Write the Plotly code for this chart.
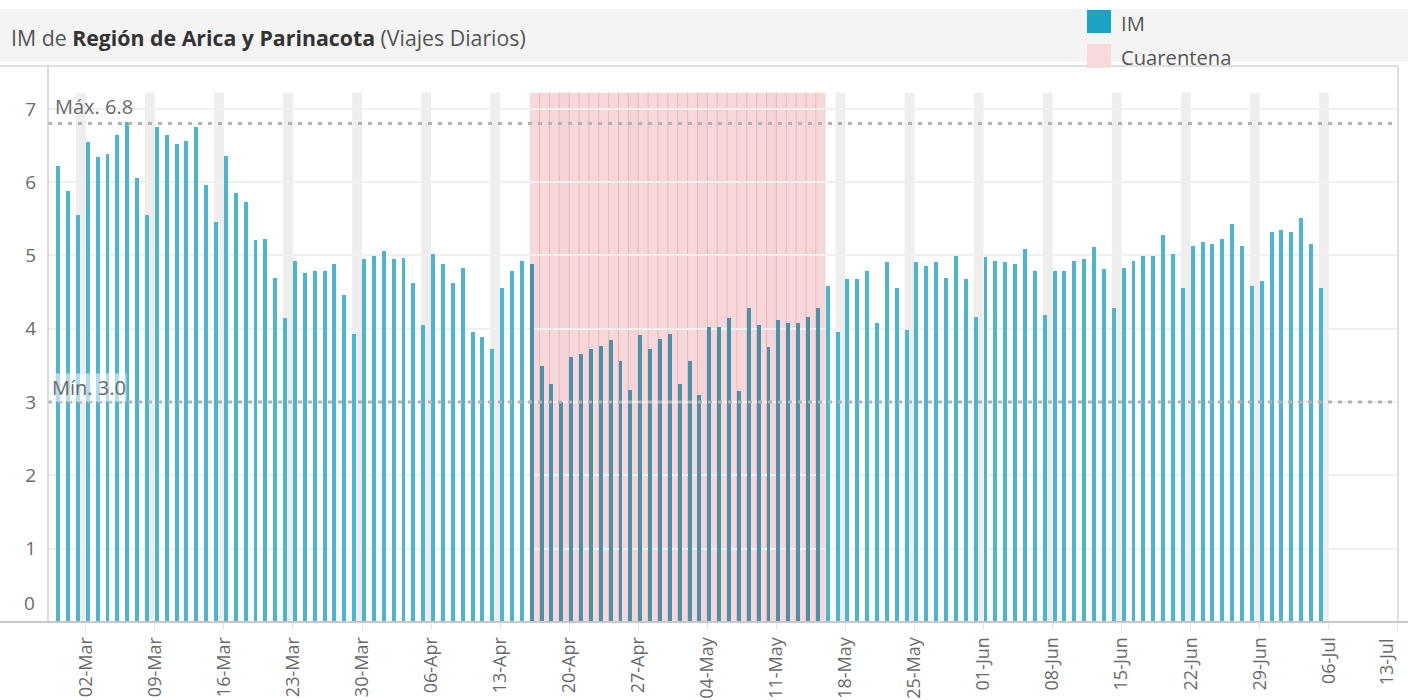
import pandas as pd
import plotly.graph_objects as go

# ---------------- data ----------------
first_day = "2020-02-28"
last_day = "2020-07-05"
im_values = [
    # Feb 28-29
    6.22, 5.88,
    # Mar
    5.55, 6.55, 6.34, 6.38, 6.64, 6.82, 6.06, 5.55, 6.75, 6.64, 6.52, 6.56, 6.75, 5.96, 5.46, 6.36,
    5.85, 5.73, 5.21, 5.22, 4.69, 4.15, 4.92, 4.76, 4.79, 4.79, 4.88, 4.46, 3.93, 4.95, 4.99,
    # Apr
    5.06, 4.95, 4.97, 4.62, 4.05, 5.02, 4.88, 4.62, 4.83, 3.96, 3.89, 3.72, 4.56, 4.79, 4.92,
    4.88, 3.49, 3.25, 3.00, 3.62, 3.66, 3.72, 3.77, 3.85, 3.56, 3.17, 3.92, 3.72, 3.86, 3.93,
    # May
    3.25, 3.56, 3.10, 4.02, 4.02, 4.15, 3.15, 4.28, 4.05, 3.75, 4.12, 4.08, 4.08, 4.16, 4.28,
    4.58, 3.96, 4.68, 4.68, 4.79, 4.08, 4.91, 4.56, 3.98, 4.91, 4.86, 4.91, 4.69, 4.99, 4.68, 4.16,
    # Jun
    4.98, 4.93, 4.91, 4.88, 5.09, 4.79, 4.19, 4.79, 4.79, 4.93, 4.95, 5.12, 4.82, 4.28, 4.83,
    4.93, 4.99, 4.99, 5.28, 5.02, 4.56, 5.13, 5.18, 5.16, 5.23, 5.43, 5.13, 4.58, 4.65, 5.32,
    # Jul
    5.35, 5.32, 5.51, 5.16, 4.56,
]
quarantine_start = "2020-04-16"
quarantine_end = "2020-05-16"
tick_dates = ["2020-03-02", "2020-03-09", "2020-03-16", "2020-03-23", "2020-03-30", "2020-04-06",
              "2020-04-13", "2020-04-20", "2020-04-27", "2020-05-04", "2020-05-11", "2020-05-18",
              "2020-05-25", "2020-06-01", "2020-06-08", "2020-06-15", "2020-06-22", "2020-06-29",
              "2020-07-06", "2020-07-13"]
tick_labels = ["02-Mar", "09-Mar", "16-Mar", "23-Mar", "30-Mar", "06-Apr", "13-Apr", "20-Apr",
               "27-Apr", "04-May", "11-May", "18-May", "25-May", "01-Jun", "08-Jun", "15-Jun",
               "22-Jun", "29-Jun", "06-Jul", "13-Jul"]
y_ticks = [0, 1, 2, 3, 4, 5, 6, 7]
region = "Región de Arica y Parinacota"

# ---------------- figure ----------------
W, H = 1408, 700
ML, MR, MT, MB = 48, 10, 66, 78
PW, PH = W - ML - MR, H - MT - MB
DAY_MS = 86400000
BAND_TOP = 7.22
FONT = "Open Sans"
GREY_TXT = "#6a6a6a"

def px_x(px):
    return (px - ML) / PW

def px_y(py):
    return (H - MB - py) / PH

dates = pd.date_range(first_day, last_day, freq="D")
q0, q1 = pd.Timestamp(quarantine_start), pd.Timestamp(quarantine_end)
in_q = [(d >= q0) and (d < q1) for d in dates]
bar_colors = ["#4a91aa" if q else "#4cb5d0" for q in in_q]

max_v = max(im_values)
min_v = min(im_values)

x_start = pd.Timestamp("2020-02-27 04:00")
x_end = x_start + pd.Timedelta(days=PW / 9.865)

fig = go.Figure()
fig.add_trace(go.Bar(
    x=dates, y=im_values, width=0.4 * DAY_MS, offset=0,
    marker=dict(color=bar_colors, line=dict(width=0)),
    name="IM", showlegend=False, hoverinfo="x+y",
))

shapes = []
# Sunday bands
for d in dates:
    if d.dayofweek == 6:
        shapes.append(dict(type="rect", xref="x", yref="y", x0=d, x1=d + pd.Timedelta(days=1),
                           y0=0, y1=BAND_TOP, fillcolor="#efedee", line=dict(width=0), layer="below"))
# Quarantine band
shapes.append(dict(type="rect", xref="x", yref="y", x0=q0, x1=q1, y0=0, y1=BAND_TOP,
                   fillcolor="rgba(245,206,209,0.8)", line=dict(width=0), layer="below"))
for d in pd.date_range(q0 + pd.Timedelta(days=1), q1 - pd.Timedelta(days=1), freq="D"):
    shapes.append(dict(type="line", xref="x", yref="y", x0=d, x1=d, y0=0, y1=BAND_TOP,
                       line=dict(color="rgba(230,150,158,0.5)", width=1), layer="below"))
# reference lines
for v in (max_v, min_v):
    shapes.append(dict(type="line", xref="paper", yref="y", x0=0, x1=1,
                       y0=round(v, 1), y1=round(v, 1),
                       line=dict(color="#b3b3b3", width=3, dash="4px,6px"), layer="above"))
# title bar
shapes.append(dict(type="rect", xref="paper", yref="paper", x0=px_x(0), x1=px_x(W),
                   y0=px_y(62), y1=px_y(9), fillcolor="#f4f4f4", line=dict(width=0), layer="below"))
# frame lines
shapes.append(dict(type="line", xref="paper", yref="paper", x0=px_x(0), x1=1,
                   y0=1, y1=1, line=dict(color="#d4d4d4", width=1.5)))
shapes.append(dict(type="line", xref="paper", yref="paper", x0=1, x1=1,
                   y0=0, y1=1, line=dict(color="#d4d4d4", width=1.5)))
shapes.append(dict(type="line", xref="paper", yref="paper", x0=0, x1=0,
                   y0=0, y1=1, line=dict(color="#cfcfcf", width=1.5)))
shapes.append(dict(type="line", xref="paper", yref="paper", x0=px_x(0), x1=px_x(W),
                   y0=0, y1=0, line=dict(color="#c8c8c8", width=2)))
# legend swatches
shapes.append(dict(type="rect", xref="paper", yref="paper", x0=px_x(1087), x1=px_x(1111),
                   y0=px_y(33), y1=px_y(10), fillcolor="#1ba3c6", line=dict(width=0)))
shapes.append(dict(type="rect", xref="paper", yref="paper", x0=px_x(1087), x1=px_x(1111),
                   y0=px_y(68), y1=px_y(44), fillcolor="#f8d9dc", line=dict(width=0)))

annotations = [
    dict(xref="paper", yref="paper", x=px_x(9), y=px_y(37), xanchor="left", yanchor="middle",
         showarrow=False, font=dict(family=FONT, size=21.3, color="#555555"),
         text=f"IM de <b style='color:#333333'>{region}</b> (Viajes Diarios)"),
    dict(xref="paper", yref="paper", x=px_x(1119), y=px_y(23), xanchor="left", yanchor="middle",
         showarrow=False, font=dict(family=FONT, size=20.2, color="#555555"), text="IM"),
    dict(xref="paper", yref="paper", x=px_x(1119), y=px_y(57), xanchor="left", yanchor="middle",
         showarrow=False, font=dict(family=FONT, size=20.2, color="#555555"), text="Cuarentena"),
    dict(xref="paper", yref="y", x=px_x(53), y=round(max_v, 1), xanchor="left", yanchor="bottom",
         yshift=2, showarrow=False, font=dict(family=FONT, size=20, color=GREY_TXT),
         text=f"Máx. {max_v:.1f}"),
    dict(xref="paper", yref="y", x=px_x(51), y=round(min_v, 1), xanchor="left", yanchor="bottom",
         yshift=0, showarrow=False, font=dict(family=FONT, size=20, color=GREY_TXT),
         bgcolor="rgba(255,255,255,0.55)", borderpad=0, text=f"Mín. {min_v:.1f}"),
    dict(xref="paper", yref="y", x=px_x(37), y=0, xanchor="right", yanchor="bottom",
         yshift=4, showarrow=False, font=dict(family=FONT, size=19, color=GREY_TXT), text="0"),
    # last x label nudged inside the frame (as the original does)
    dict(xref="x", yref="paper", x=tick_dates[-1], y=0, xanchor="center", yanchor="top",
         xshift=-12, yshift=-14, textangle=-90, showarrow=False,
         font=dict(family=FONT, size=18, color=GREY_TXT), text=tick_labels[-1]),
]

fig.update_layout(
    width=W, height=H,
    margin=dict(l=ML, r=MR, t=MT, b=MB, pad=0, autoexpand=False),
    paper_bgcolor="white", plot_bgcolor="white",
    barmode="overlay", bargap=0,
    shapes=shapes, annotations=annotations,
    showlegend=False,
    font=dict(family=FONT, color=GREY_TXT),
)
fig.update_xaxes(
    type="date", range=[x_start, x_end], automargin=False,
    tickvals=tick_dates, ticktext=tick_labels[:-1] + [""], tickangle=-90,
    tickfont=dict(family=FONT, size=18, color=GREY_TXT), ticklabeloverflow="allow",
    ticks="outside", ticklen=7, tickcolor="#e4e4e4", showgrid=False, zeroline=False,
    showline=False,
)
fig.update_yaxes(
    range=[0, 7.585], tickvals=y_ticks, ticktext=["" if v == 0 else str(v) for v in y_ticks],
    automargin=False,
    tickfont=dict(family=FONT, size=19, color=GREY_TXT), ticks="", ticklabelstandoff=11,
    showgrid=True, gridcolor="#f0f0f0", gridwidth=1.5, zeroline=False, showline=False,
)

fig.write_html("out.html", config={"displayModeBar": False},
               post_script="document.body.style.margin='0px';")
